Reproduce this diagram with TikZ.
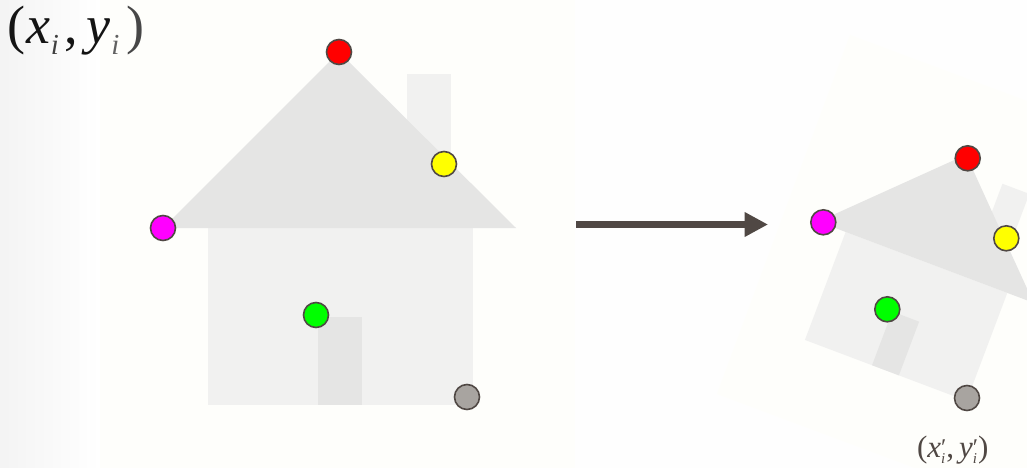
\documentclass[tikz,border=0pt]{standalone}
\usepackage{fontspec}
\setmainfont{Liberation Serif}
\usetikzlibrary{arrows.meta}
\definecolor{ink}{HTML}{504844}
\definecolor{wallgrey}{HTML}{F1F1F0}
\definecolor{roofgrey}{HTML}{E5E5E4}
\definecolor{cream}{HTML}{FEFEFB}
\definecolor{paper}{HTML}{FEFEFE}
\definecolor{stonegrey}{HTML}{A8A4A0}
\definecolor{pure red}{HTML}{FF0000}
\definecolor{pure yellow}{HTML}{FFFF00}
\definecolor{pure magenta}{HTML}{FF00FF}
\definecolor{pure green}{HTML}{00FF00}
\tikzset{
  px/.style={x=1pt,y=-1pt},
  wall/.style={fill=wallgrey,draw=none},
  roof/.style={fill=roofgrey,draw=none},
  marker/.style={circle,draw=ink,line width=1.6pt,minimum size=25pt,inner sep=0pt},
  label/.style={anchor=base west,inner sep=0pt,outer sep=0pt},
  bigarrow/.style={draw=ink,line width=7.6pt,-{Triangle[length=23.5pt,width=23.5pt]}}
}
% One house outline, in the coordinates of whatever frame is active.
\newcommand{\houseshape}{%
  \fill[wall] (407,74) -- (451,74) -- (451,170) -- (407,170) -- cycle;
  \fill[wall] (208,228) -- (473,228) -- (473,405) -- (208,405) -- cycle;
  \fill[roof] (318,317) -- (362,317) -- (362,405) -- (318,405) -- cycle;
  \fill[roof] (163,228) -- (339,52) -- (516,228) -- cycle;
}
\begin{document}
\begin{tikzpicture}[px]
  \useasboundingbox (0,0) rectangle (1027,468);
  % Backdrop: faded left margin and cream panels.
  \fill[paper] (0,0) rectangle (1027,468);
  \shade[left color=black!4.5,right color=white,shading angle=90,draw=none] (0,0) rectangle (100,468);
  \fill[cream] (100,0) rectangle (575,468);
  \clip (0,0) rectangle (1027,468);
  \fill[cream] (850,35) -- (717,394) -- (1100,537) -- (1233,178) -- cycle;
  % Original house.
  \houseshape
  % Rotated and scaled copy.
  \begin{scope}[shift={(771.21,45.03)},x={(.61pt,-.23pt)},y={(.23pt*-1,-.61pt)}]
    \houseshape
  \end{scope}
  % Corner markers on both houses.
  \node[marker,fill=pure red]     (ared)     at (339,52)  {};
  \node[marker,fill=pure yellow]  (ayellow)  at (444,164) {};
  \node[marker,fill=pure magenta] (amagenta) at (163,228) {};
  \node[marker,fill=pure green]   (agreen)   at (316,315) {};
  \node[marker,fill=stonegrey]    (agrey)    at (467,397) {};
  \node[marker,fill=pure red]     (bred)     at (967.7,158.3) {};
  \node[marker,fill=pure yellow]  (byellow)  at (1006.3,238.3) {};
  \node[marker,fill=pure magenta] (bmagenta) at (823.3,222.3) {};
  \node[marker,fill=pure green]   (bgreen)   at (887.3,309.3) {};
  \node[marker,fill=stonegrey]    (bgrey)    at (967,398) {};
  % Transformation arrow.
  \coordinate (arrowfrom) at (576,224.5);
  \coordinate (arrowto) at (768,224.5);
  \draw[bigarrow] (arrowfrom) -- (arrowto);
  % Point labels.
  \node[label,text=black!92] (srclabel) at (7,44) {%
    \fontsize{54}{54}\selectfont(\kern2pt\itshape x%
    \raisebox{-11pt}{\fontsize{29}{29}\selectfont\color{black!75}i}\kern5pt
    \upshape,\kern9pt\itshape y\kern1pt%
    \raisebox{-11pt}{\fontsize{29}{29}\selectfont\color{black!62}i}\kern6.5pt
    \upshape\color{black!72})};
  \node[label,text=ink] (dstlabel) at (917,457) {%
    \fontsize{31}{31}\selectfont(\itshape x\rlap{\raisebox{-6pt}{\fontsize{15}{15}\selectfont i}}%
    \raisebox{2pt}{\upshape\fontsize{24}{24}\selectfont\char"2032}\upshape,\kern5pt\itshape y%
    \rlap{\raisebox{-6pt}{\fontsize{15}{15}\selectfont i}}%
    \raisebox{2pt}{\upshape\fontsize{24}{24}\selectfont\char"2032}\upshape)};
\end{tikzpicture}
\end{document}
